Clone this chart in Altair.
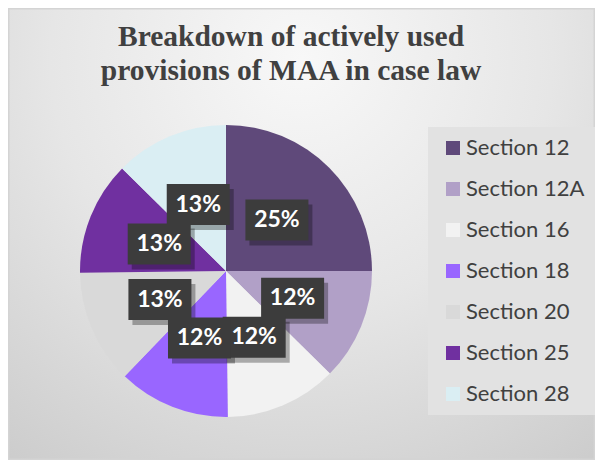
import altair as alt
import pandas as pd

# ---- data ----
sections = ["Section 12", "Section 12A", "Section 16", "Section 18",
            "Section 20", "Section 25", "Section 28"]
shares = [25.0, 12.4, 12.4, 12.4, 12.6, 12.6, 12.6]
colors = ["#5F497A", "#B1A0C7", "#F2F2F2", "#9966FF",
          "#D9D9D9", "#7030A0", "#DAEEF3"]
title_lines = ["Breakdown of actively used", "provisions of MAA in case law"]

# ---- layout constants ----
W, H = 587, 452
CX, CY = 218, 263
R = 146
LR = 72          # label radius
BW, BH = 63, 41  # label box size

df = pd.DataFrame({"idx": list(range(len(sections))), "section": sections,
                   "value": shares})

xs = alt.Scale(domain=[0, W], nice=False, zero=False)
ys = alt.Scale(domain=[0, H], nice=False, zero=False, reverse=True)

bg = alt.Chart(pd.DataFrame({"k": [0]})).mark_rect(
    color=alt.Gradient(
        gradient="radial",
        stops=[alt.GradientStop(offset=0, color="#F8F8F8"),
               alt.GradientStop(offset=0.45, color="#E6E6E6"),
               alt.GradientStop(offset=1, color="#C6C6C6")],
        x1=0.5, y1=0.2, r1=0, x2=0.5, y2=0.2, r2=0.95),
    stroke="#D4D4D4", strokeWidth=3,
).encode(x=alt.value(0), x2=alt.value(W), y=alt.value(0), y2=alt.value(H))

pie = alt.Chart(df).mark_arc(outerRadius=R, strokeWidth=0).encode(
    theta=alt.Theta("value:Q", stack=True),
    order=alt.Order("idx:Q"),
    color=alt.Color("section:N", sort=sections,
                    scale=alt.Scale(domain=sections, range=colors),
                    legend=alt.Legend(orient="none", legendX=420, legendY=119,
                                      title=None, fillColor="#E2E2E2",
                                      padding=10, symbolType="square",
                                      symbolSize=196, symbolStrokeWidth=0,
                                      symbolOpacity=1, symbolOffset=4,
                                      labelFont="Lato", labelFontSize=22,
                                      labelColor="#404040", rowPadding=19,
                                      labelOffset=2, labelLimit=300)),
    x=alt.value(CX), y=alt.value(CY),
)

lab = alt.Chart(df).transform_joinaggregate(
    total="sum(value)"
).transform_window(
    cum="sum(value)", sort=[alt.SortField("idx")], frame=[None, 0]
).transform_calculate(
    frac="datum.value / datum.total",
    mid="2 * PI * (datum.cum - datum.value / 2) / datum.total",
    lx=f"{CX} + {LR} * sin(datum.mid)",
    ly=f"{CY} - {LR} * cos(datum.mid)",
    bx1=f"datum.lx - {BW/2}", bx2=f"datum.lx + {BW/2}",
    by1=f"datum.ly - {BH/2}", by2=f"datum.ly + {BH/2}",
    sx1=f"datum.bx1 + 4", sx2=f"datum.bx2 + 4",
    sy1=f"datum.by1 + 5", sy2=f"datum.by2 + 5",
)

shadow = lab.mark_rect(color="#000000", opacity=0.3).encode(
    x=alt.X("sx1:Q", scale=xs, axis=None), x2="sx2:Q",
    y=alt.Y("sy1:Q", scale=ys, axis=None), y2="sy2:Q")

boxes = lab.mark_rect(color="#3C3C3C").encode(
    x=alt.X("bx1:Q", scale=xs, axis=None), x2="bx2:Q",
    y=alt.Y("by1:Q", scale=ys, axis=None), y2="by2:Q")

texts = lab.mark_text(font="Lato", fontSize=23, fontWeight="bold",
                      color="#FFFFFF", baseline="middle", align="center").encode(
    x=alt.X("lx:Q", scale=xs, axis=None),
    y=alt.Y("ly:Q", scale=ys, axis=None),
    text=alt.Text("frac:Q", format=".0%"))

title = alt.Chart(pd.DataFrame({"t": ["\n".join(title_lines)]})).mark_text(
    font="Liberation Serif", fontSize=29.5, fontWeight="bold", color="#404040",
    lineBreak="\n", lineHeight=34, align="center", baseline="alphabetic",
).encode(x=alt.value(283), y=alt.value(38), text="t:N")

chart = alt.layer(bg, pie, shadow, boxes, texts, title).properties(
    width=W, height=H, padding=0, autosize="none"
).configure_view(stroke=None)

chart.save("out.html", embed_options={"renderer": "svg", "actions": False})
